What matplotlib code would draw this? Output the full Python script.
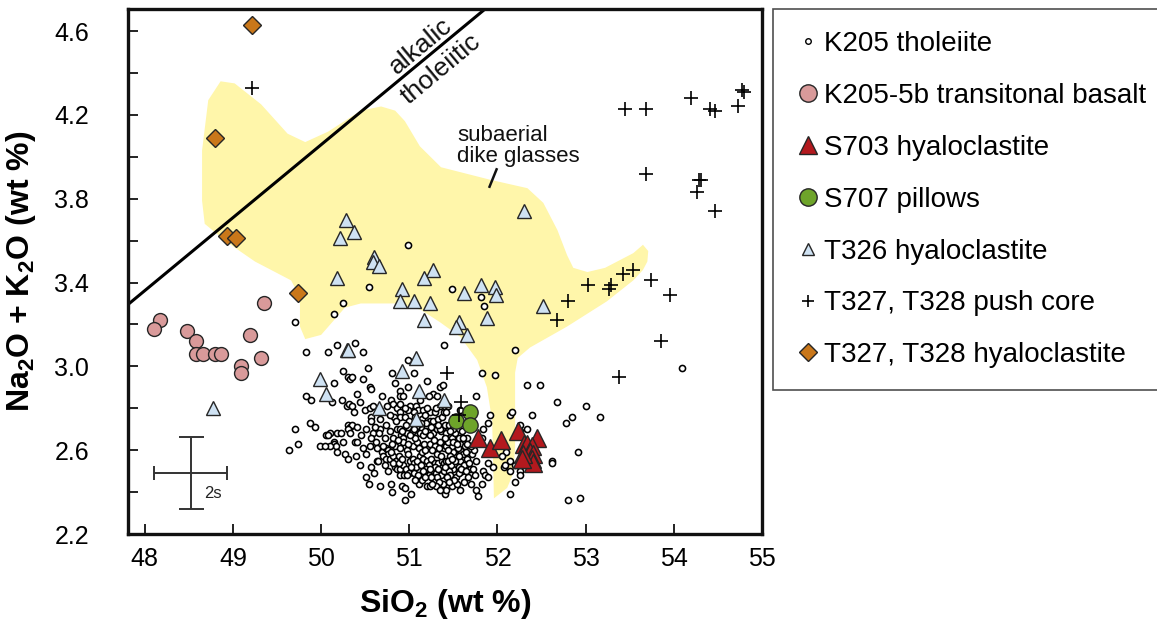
import matplotlib
matplotlib.use("Agg")
import matplotlib.pyplot as plt
from matplotlib.lines import Line2D
from matplotlib.patches import Polygon
from matplotlib.ticker import MultipleLocator

plt.rcParams['font.family'] = ['Liberation Sans', 'DejaVu Sans']
plt.rcParams['mathtext.fontset'] = 'custom'
plt.rcParams['mathtext.rm'] = 'Liberation Sans'
plt.rcParams['mathtext.bf'] = 'Liberation Sans:bold'

# ---------------- data ----------------
k205_tholeiite = [
    (50.54, 3.38), (50.25, 3.30), (50.15, 3.25), (49.70, 3.21), (49.83, 3.07), (50.08, 3.07),
    (50.18, 3.10), (50.38, 3.11), (50.47, 3.07), (50.53, 2.99), (51.39, 3.10), (50.98, 3.58),
    (50.98, 3.03), (51.49, 3.37), (51.81, 3.33), (51.85, 3.29), (52.20, 3.08), (54.09, 2.99),
    (50.25, 2.98), (50.31, 2.95), (50.33, 2.94), (50.35, 2.95), (50.47, 2.94), (50.56, 2.90),
    (50.57, 2.89), (50.80, 2.97), (50.84, 2.92), (50.89, 2.88), (50.89, 2.86), (50.93, 2.86),
    (50.99, 2.90), (51.05, 2.97), (51.20, 2.93), (51.27, 2.87), (51.31, 2.86), (51.35, 2.90),
    (51.38, 2.91), (51.22, 2.86), (50.15, 2.92), (49.83, 2.86), (49.89, 2.84), (50.12, 2.83),
    (50.24, 2.84), (50.29, 2.81), (50.32, 2.82), (50.35, 2.81), (50.41, 2.87), (50.44, 2.83),
    (50.37, 2.78), (50.50, 2.79), (50.55, 2.80), (50.59, 2.81), (50.69, 2.86), (50.79, 2.84),
    (50.82, 2.82), (50.86, 2.80), (50.89, 2.78), (50.89, 2.76), (50.83, 2.76), (51.01, 2.81),
    (51.08, 2.81), (51.10, 2.79), (51.16, 2.79), (51.05, 2.78), (51.24, 2.78), (51.29, 2.78),
    (51.20, 2.80), (51.35, 2.81), (49.87, 2.73), (49.93, 2.71), (49.70, 2.70), (50.10, 2.68),
    (50.05, 2.67), (50.08, 2.67), (50.18, 2.68), (50.22, 2.68), (50.31, 2.72), (50.33, 2.71),
    (50.35, 2.72), (50.31, 2.70), (50.33, 2.68), (50.41, 2.71), (50.51, 2.70), (50.57, 2.76),
    (50.57, 2.74), (50.67, 2.75), (50.74, 2.72), (50.59, 2.68), (50.67, 2.70), (50.25, 2.64),
    (50.38, 2.64), (50.41, 2.64), (50.15, 2.64), (50.15, 2.63), (50.17, 2.62), (50.10, 2.62),
    (49.99, 2.62), (50.04, 2.62), (50.18, 2.59), (50.27, 2.58), (50.31, 2.56), (50.47, 2.61),
    (50.51, 2.58), (50.57, 2.66), (50.62, 2.64), (50.69, 2.59), (50.74, 2.61), (50.76, 2.60),
    (50.76, 2.58), (50.84, 2.62), (50.82, 2.66), (50.86, 2.70), (50.89, 2.70), (50.91, 2.67),
    (50.93, 2.66), (50.97, 2.68), (50.99, 2.71), (51.03, 2.73), (51.04, 2.69), (51.06, 2.76),
    (51.08, 2.71), (51.14, 2.70), (51.20, 2.71), (51.12, 2.68), (51.16, 2.67), (51.22, 2.69),
    (51.27, 2.68), (51.31, 2.70), (51.36, 2.69), (51.38, 2.71), (51.23, 2.74), (51.27, 2.74),
    (51.33, 2.75), (51.37, 2.76), (51.39, 2.78), (49.74, 2.63), (49.64, 2.60), (50.57, 2.52),
    (50.63, 2.55), (50.65, 2.55), (50.70, 2.57), (50.74, 2.56), (50.78, 2.56), (50.82, 2.57),
    (50.85, 2.55), (50.88, 2.57), (50.84, 2.52), (50.86, 2.51), (50.90, 2.51), (50.93, 2.53),
    (50.96, 2.51), (51.00, 2.49), (51.05, 2.49), (51.01, 2.55), (51.04, 2.56), (51.05, 2.54),
    (51.08, 2.52), (51.12, 2.57), (51.15, 2.56), (51.20, 2.55), (51.22, 2.53), (51.19, 2.51),
    (51.25, 2.56), (51.29, 2.54), (51.33, 2.54), (51.37, 2.55), (51.39, 2.54), (51.27, 2.50),
    (51.30, 2.49), (51.36, 2.48), (51.39, 2.50), (51.31, 2.47), (51.22, 2.48), (51.25, 2.47),
    (50.89, 2.48), (50.94, 2.48), (50.97, 2.48), (51.11, 2.44), (51.20, 2.43), (51.23, 2.43),
    (51.38, 2.44), (50.51, 2.47), (50.54, 2.44), (50.67, 2.43), (50.79, 2.44), (50.80, 2.40),
    (50.92, 2.43), (50.95, 2.42), (51.02, 2.39), (50.95, 2.36), (50.72, 2.66), (50.63, 2.61),
    (50.89, 2.61), (50.97, 2.60), (51.04, 2.62), (51.09, 2.64), (51.17, 2.63), (51.23, 2.63),
    (51.29, 2.62), (51.35, 2.64), (51.39, 2.61), (50.78, 2.69), (50.95, 2.76), (50.99, 2.79),
    (51.14, 2.75), (51.19, 2.73), (50.67, 2.79), (50.75, 2.81), (50.89, 2.82),
    (51.82, 2.97), (51.97, 2.96), (52.33, 2.91), (52.48, 2.91), (52.68, 2.83), (53.00, 2.81),
    (53.16, 2.76), (52.78, 2.73), (52.84, 2.76), (52.91, 2.59), (52.62, 2.55), (52.62, 2.54),
    (52.80, 2.36), (52.94, 2.37), (51.76, 2.86), (51.92, 2.77), (52.14, 2.77), (52.17, 2.78),
    (52.39, 2.77), (52.26, 2.72), (52.33, 2.70), (52.26, 2.69), (51.84, 2.70), (51.89, 2.73),
    (51.82, 2.66), (52.10, 2.59), (52.05, 2.57), (52.14, 2.55), (51.95, 2.52), (52.07, 2.52),
    (52.09, 2.53), (52.14, 2.50), (52.20, 2.53), (52.25, 2.54), (52.26, 2.50), (52.26, 2.48),
    (52.20, 2.45), (52.14, 2.39), (51.89, 2.54), (51.84, 2.50), (51.86, 2.48), (51.89, 2.47),
    (51.82, 2.44), (51.76, 2.41), (51.78, 2.38), (51.69, 2.51), (51.76, 2.55), (51.71, 2.58),
    (51.65, 2.66), (51.73, 2.60), (51.58, 2.63), (51.58, 2.60), (51.61, 2.58), (51.58, 2.55),
    (51.52, 2.58), (51.50, 2.59), (51.48, 2.62), (51.42, 2.62), (51.46, 2.57), (51.42, 2.55),
    (51.56, 2.52), (51.60, 2.50), (51.50, 2.51), (51.45, 2.50), (51.46, 2.48), (51.53, 2.47),
    (51.56, 2.49), (51.48, 2.43), (51.54, 2.44), (51.40, 2.39), (51.35, 2.70), (51.40, 2.72),
    (51.42, 2.68), (51.48, 2.66), (51.42, 2.65), (51.52, 2.68), (51.56, 2.66), (51.61, 2.66),
    (51.63, 2.62), (51.60, 2.69), (51.44, 2.81), (51.37, 2.82), (51.42, 2.78), (51.53, 2.76),
    (51.57, 2.79), (51.45, 2.72), (51.50, 2.70), (51.47, 2.53), (51.52, 2.55), (51.44, 2.60),
    (51.55, 2.61), (51.62, 2.53), (51.66, 2.56), (51.70, 2.62), (51.67, 2.47), (51.62, 2.45),
    (51.57, 2.41), (51.70, 2.44),
    (50.93, 2.64), (50.99, 2.63), (51.06, 2.66), (51.11, 2.61), (51.14, 2.59), (51.18, 2.60),
    (51.26, 2.60), (51.31, 2.58), (51.34, 2.61), (51.36, 2.57), (51.28, 2.65), (51.24, 2.67),
    (51.18, 2.69), (51.13, 2.73), (51.09, 2.74), (51.00, 2.74), (50.96, 2.72), (50.92, 2.69),
    (50.87, 2.65), (50.80, 2.63), (50.79, 2.59), (50.82, 2.54), (50.88, 2.54), (50.92, 2.56),
    (50.98, 2.58), (51.02, 2.52), (51.09, 2.55), (51.13, 2.53), (51.16, 2.50), (51.10, 2.48),
    (51.06, 2.46), (51.14, 2.46), (51.18, 2.47), (51.29, 2.52), (51.33, 2.51), (51.24, 2.51),
    (51.34, 2.45), (51.30, 2.43), (51.26, 2.44), (51.44, 2.64), (51.46, 2.69), (51.40, 2.66),
    (51.44, 2.55), (51.41, 2.52), (51.43, 2.47), (51.48, 2.56), (51.50, 2.64), (51.54, 2.63),
    (51.56, 2.57), (51.59, 2.51), (51.64, 2.59), (51.66, 2.63), (51.68, 2.54), (51.72, 2.51),
    (51.74, 2.48), (51.64, 2.50), (51.51, 2.46), (51.45, 2.45), (51.42, 2.41), (51.35, 2.41),
    (50.72, 2.53), (50.76, 2.50), (50.70, 2.62), (50.66, 2.68), (50.61, 2.71), (50.55, 2.62),
    (50.45, 2.67), (50.40, 2.57), (50.44, 2.53), (50.60, 2.49), (51.05, 2.70), (51.01, 2.67),
    (50.95, 2.80), (51.12, 2.84), (51.18, 2.77), (51.30, 2.80), (51.33, 2.72), (51.25, 2.71),
    (50.85, 2.74), (50.78, 2.77),
]

k205_5b_si = [48.17, 48.10, 48.48, 48.58, 48.58, 48.66, 48.80, 48.86, 49.19, 49.35, 49.32, 49.09, 49.09]
k205_5b_alk = [3.22, 3.18, 3.17, 3.12, 3.06, 3.06, 3.06, 3.06, 3.15, 3.30, 3.04, 3.00, 2.97]

s703_si = [51.78, 51.91, 52.04, 52.23, 52.45, 52.30, 52.34, 52.39, 52.37, 52.40, 52.39, 52.40, 52.29, 52.28]
s703_alk = [2.66, 2.61, 2.65, 2.69, 2.66, 2.63, 2.63, 2.62, 2.59, 2.58, 2.56, 2.54, 2.58, 2.56]

s707_si = [51.69, 51.53, 51.69]
s707_alk = [2.78, 2.74, 2.72]

t326_si = [50.28, 50.37, 50.21, 50.60, 50.59, 50.66, 51.27, 50.18, 51.17, 50.92, 50.89, 51.05,
           51.24, 51.17, 50.29, 50.31, 51.08, 50.92, 51.62, 51.81, 51.97, 51.98, 51.56, 51.53,
           51.66, 51.88, 52.52, 52.30, 48.77, 49.99, 50.05, 50.66, 51.11, 51.08, 51.39]
t326_alk = [3.70, 3.64, 3.61, 3.52, 3.50, 3.48, 3.46, 3.42, 3.42, 3.37, 3.31, 3.31,
            3.30, 3.22, 3.08, 3.08, 3.04, 2.98, 3.35, 3.39, 3.38, 3.34, 3.21, 3.19,
            3.15, 3.23, 3.29, 3.74, 2.80, 2.94, 2.87, 2.80, 2.88, 2.75, 2.84]

push_si = [49.22, 53.45, 53.69, 54.19, 54.41, 54.47, 54.73, 54.77, 54.80, 53.68, 54.31, 54.29,
           54.26, 54.47, 53.54, 53.42, 53.74, 53.29, 53.26, 53.03, 53.96, 52.80, 52.68, 53.86,
           53.38, 51.43, 51.59, 51.56]
push_alk = [4.33, 4.23, 4.23, 4.28, 4.23, 4.22, 4.24, 4.32, 4.31, 3.92, 3.89, 3.89,
            3.83, 3.74, 3.46, 3.44, 3.41, 3.39, 3.37, 3.39, 3.34, 3.31, 3.22, 3.12,
            2.95, 2.97, 2.83, 2.77]

hyalo_si = [49.22, 48.80, 48.93, 49.04, 49.74]
hyalo_alk = [4.63, 4.09, 3.62, 3.61, 3.35]

# subaerial dike glasses field outline (SiO2, Na2O+K2O)
field_si = [48.86, 49.02, 49.32, 49.62, 49.82, 50.08, 50.45, 50.68, 50.84, 50.95, 51.12, 51.36,
            51.92, 52.34, 52.52, 52.68, 52.79, 52.86, 53.02, 53.22, 53.54, 53.65, 53.71, 53.70,
            53.65, 53.54, 53.24, 52.79, 52.37, 52.23, 52.20, 52.20, 52.20, 52.18, 52.11, 51.96,
            51.95, 51.94, 51.88, 51.77, 51.58, 51.35, 51.13, 50.84, 50.45, 50.27, 50.00, 49.82,
            49.76, 49.76, 49.66, 49.25, 48.94, 48.68, 48.65, 48.65, 48.72]
field_alk = [4.36, 4.35, 4.25, 4.11, 4.07, 4.12, 4.22, 4.24, 4.22, 4.17, 4.05, 3.95,
             3.89, 3.85, 3.78, 3.65, 3.53, 3.47, 3.45, 3.47, 3.54, 3.58, 3.55, 3.50,
             3.46, 3.41, 3.31, 3.19, 3.09, 3.04, 2.97, 2.79, 2.61, 2.49, 2.42, 2.37,
             2.55, 2.74, 2.90, 3.03, 3.14, 3.21, 3.27, 3.30, 3.30, 3.28, 3.15, 3.13,
             3.19, 3.33, 3.41, 3.50, 3.59, 3.68, 3.79, 4.03, 4.27]

divider_si = [47.81, 51.86]
divider_alk = [3.295, 4.705]

err_center = (48.52, 2.49)
err_si, err_alk = 0.41, 0.173

x_ticks = [48, 49, 50, 51, 52, 53, 54, 55]
y_ticks = [2.2, 2.6, 3.0, 3.4, 3.8, 4.2, 4.6]

labels = ["K205 tholeiite", "K205-5b transitonal basalt", "S703 hyaloclastite", "S707 pillows",
          "T326 hyaloclastite", "T327, T328 push core", "T327, T328 hyaloclastite"]

# ---------------- colours ----------------
c_pink = "#d99a9a"
c_red = "#b3191e"
c_green = "#6ea42a"
c_blue = "#cfe2f3"
c_orange = "#c9771a"
c_field = "#fff6aa"
c_edge = "#262626"

fig = plt.figure(figsize=(11.57, 6.4), dpi=100)
ax = fig.add_axes([128/1157, 1-534/640, (762-128)/1157, (534-9)/640])

ax.add_patch(Polygon(list(zip(field_si, field_alk)), closed=True, facecolor=c_field,
                     edgecolor='none', zorder=1, joinstyle='round'))
ax.plot(divider_si, divider_alk, color='black', lw=2.2, zorder=2, solid_capstyle='butt')

th_x = [p[0] for p in k205_tholeiite]
th_y = [p[1] for p in k205_tholeiite]
ax.plot(th_x, th_y, ls='none', marker='o', ms=4.4, mfc='white', mec='black', mew=1.15, zorder=3)
ax.plot(t326_si, t326_alk, ls='none', marker='^', ms=9.5, mfc=c_blue, mec=c_edge, mew=1.0, zorder=4)
ax.plot(k205_5b_si, k205_5b_alk, ls='none', marker='o', ms=10, mfc=c_pink, mec=c_edge, mew=1.0, zorder=4)
ax.plot(s703_si, s703_alk, ls='none', marker='^', ms=12.5, mfc=c_red, mec=c_edge, mew=1.0, zorder=5)
ax.plot(s707_si, s707_alk, ls='none', marker='o', ms=11, mfc=c_green, mec=c_edge, mew=1.0, zorder=5)
ax.plot(hyalo_si, hyalo_alk, ls='none', marker='D', ms=9.2, mfc=c_orange, mec=c_edge, mew=1.0, zorder=6)
ax.plot(push_si, push_alk, ls='none', marker='+', ms=9.5, mec='black', mew=1.2, zorder=7)

# error bars (2s)
ax.errorbar([err_center[0]], [err_center[1]], yerr=err_alk, fmt='none', ecolor='#333333',
            elinewidth=1.4, capsize=9, capthick=1.4, zorder=3)
ax.errorbar([err_center[0]], [err_center[1]], xerr=err_si, fmt='none', ecolor='#333333',
            elinewidth=1.4, capsize=5, capthick=1.4, zorder=3)
ax.text(48.77, 2.395, "2s", fontsize=12, ha='center', va='center', color='#222222')

# annotations
ax.text(51.13, 4.53, "alkalic", rotation=39.7, rotation_mode='anchor', fontsize=19,
        ha='center', va='center', color='#111111')
ax.text(51.36, 4.42, "tholeiitic", rotation=39.7, rotation_mode='anchor', fontsize=19,
        ha='center', va='center', color='#111111')
ax.text(51.54, 4.15, "subaerial\ndike glasses", fontsize=16, ha='left', va='top',
        linespacing=1.0, color='#111111')
ax.plot([51.99, 51.91], [3.94, 3.857], color='#111111', lw=1.8, zorder=8)

ax.set_xlim(47.81, 55.0)
ax.set_ylim(2.2, 4.705)
ax.set_xticks(x_ticks)
ax.set_yticks(y_ticks)
ax.yaxis.set_minor_locator(MultipleLocator(0.2))
ax.set_xticklabels([str(t) for t in x_ticks])
ax.set_yticklabels([f"{t:.1f}" for t in y_ticks])
ax.tick_params(axis='both', which='both', direction='in', top=False, right=False,
               labelsize=18, width=1.4, length=7, color='#222222')
ax.tick_params(axis='y', which='both', pad=28)
ax.tick_params(axis='x', which='both', pad=9)
for s in ax.spines.values():
    s.set_linewidth(2.4)
    s.set_color('#111111')

ax.set_xlabel(r"SiO$_\mathbf{2}$ (wt %)", fontsize=23, fontweight='bold', labelpad=12)
ax.set_ylabel(r"Na$_\mathbf{2}$O + K$_\mathbf{2}$O (wt %)", fontsize=23, fontweight='bold',
              labelpad=12)

handles = [
    Line2D([], [], ls='none', marker='o', ms=4, mfc='white', mec='black', mew=1.0),
    Line2D([], [], ls='none', marker='o', ms=12.5, mfc=c_pink, mec=c_edge, mew=1.0),
    Line2D([], [], ls='none', marker='^', ms=13, mfc=c_red, mec=c_edge, mew=1.0),
    Line2D([], [], ls='none', marker='o', ms=12.5, mfc=c_green, mec=c_edge, mew=1.0),
    Line2D([], [], ls='none', marker='^', ms=9, mfc=c_blue, mec=c_edge, mew=1.0),
    Line2D([], [], ls='none', marker='+', ms=9, mec='black', mew=1.2),
    Line2D([], [], ls='none', marker='D', ms=8.7, mfc=c_orange, mec=c_edge, mew=1.0),
]
leg = fig.legend(handles, labels, loc='upper left', bbox_to_anchor=(773/1157, 1-9/640),
                 bbox_transform=fig.transFigure, fontsize=20, frameon=True, fancybox=False,
                 edgecolor='#222222', borderpad=0.8, labelspacing=0.93, handlelength=0.9,
                 handletextpad=0.15, borderaxespad=0, numpoints=1)
leg.get_frame().set_linewidth(1.2)

fig.savefig("out.png", dpi=100)
